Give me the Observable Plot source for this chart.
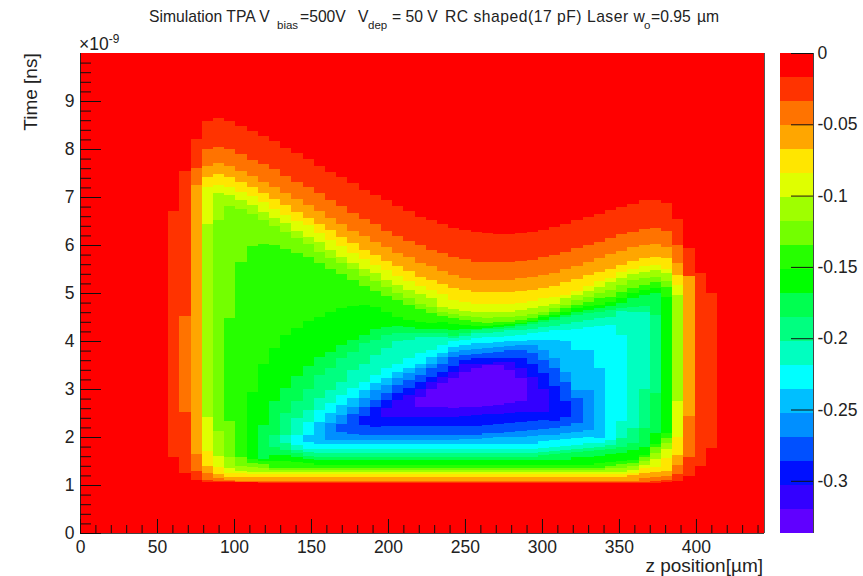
<!DOCTYPE html>
<html>
<head>
<meta charset="utf-8">
<script src="https://cdn.jsdelivr.net/npm/d3@7"></script>
<script src="https://cdn.jsdelivr.net/npm/@observablehq/plot@0.6"></script>
<style>
html,body{margin:0;padding:0;background:#fff}
#wrap{position:relative;width:863px;height:576px;overflow:hidden;font-family:"Liberation Sans",Arial,sans-serif;color:#222}
#wrap svg{position:absolute;left:0;top:0;background:transparent}
.t{position:absolute;white-space:nowrap;line-height:1}
.t sup{font-size:68%;line-height:0}
.h{position:absolute;white-space:nowrap;line-height:1;font-size:15.7px;top:9px}
.s{position:absolute;white-space:nowrap;line-height:1;font-size:11.5px;top:20px}
</style>
</head>
<body>
<div id="wrap">
<span class="h" style="left:149px">Simulation TPA V</span><span class="s" style="left:277px">bias</span><span class="h" style="left:300px">=500V</span><span class="h" style="left:358px">V</span><span class="s" style="left:368px">dep</span><span class="h" style="left:392px">= 50 V</span><span class="h" style="left:445px;letter-spacing:0.5px">RC shaped(17 pF) Laser w</span><span class="s" style="left:644px">o</span><span class="h" style="left:651px">=0.95</span><span class="h" style="left:697px">µ</span><span class="h" style="left:706px">m</span>
<div class="t" style="left:79px;top:36px;font-size:17.5px">×10<sup>-9</sup></div>
<div class="t" style="right:100px;top:556px;font-size:19px">z position[µm]</div>
<div class="t" style="left:30px;top:92px;font-size:19px;transform:translate(-50%,-50%) rotate(-90deg)">Time [ns]</div>
</div>
<script>
const palette = ["#ff0000","#ff3300","#ff7300","#ffa600","#ffe600","#dfff00","#9fff00","#73ff00","#26ff00","#00ff00","#00ff50","#00ff80","#00ffc0","#00ffff","#00bfff","#008fff","#0050ff","#0010ff","#3300ff","#6000ff"];
const zEdges = [0,-0.0168,-0.0337,-0.0505,-0.0673,-0.0842,-0.101,-0.1178,-0.1346,-0.1515,-0.1683,-0.1851,-0.202,-0.2188,-0.2356,-0.2525,-0.2693,-0.2861,-0.303,-0.3198,-0.3366];
const zTicks = [0,-0.05,-0.1,-0.15,-0.2,-0.25,-0.3];
const xMajor = [0,50,100,150,200,250,300,350,400];
const xMinor = [10,20,30,40,60,70,80,90,110,120,130,140,160,170,180,190,210,220,230,240,260,270,280,290,310,320,330,340,360,370,380,390,410,420,430,440];
const yMajor = [0,1,2,3,4,5,6,7,8,9];
const yMinor = [0.2,0.4,0.6,0.8,1.2,1.4,1.6,1.8,2.2,2.4,2.6,2.8,3.2,3.4,3.6,3.8,4.2,4.4,4.6,4.8,5.2,5.4,5.6,5.8,6.2,6.4,6.6,6.8,7.2,7.4,7.6,7.8,8.2,8.4,8.6,8.8,9.2,9.4,9.6,9.8];

// first bin index of each band, then upper and lower time edge (ns) for each z bin
const bandStart = [8,9,10,11,11,11,12,13,15,16,17,18,19,20,22,23,25,27,30];
const L1Top=[6.71,7.55,8.21,8.58,8.64,8.58,8.48,8.38,8.27,8.17,8.03,7.92,7.79,7.65,7.53,7.42,7.29,7.15,7.04,6.94,6.81,6.71,6.59,6.52,6.44,6.35,6.31,6.28,6.25,6.23,6.23,6.25,6.27,6.31,6.38,6.44,6.52,6.59,6.65,6.73,6.80,6.85,6.94,6.94,6.88,6.54,5.94,5.42,5.01];
const L1Bot=[1.59,1.25,1.10,1.07,1.06,1.06,1.06,1.06,1.05,1.05,1.05,1.05,1.05,1.05,1.05,1.05,1.05,1.05,1.05,1.05,1.05,1.05,1.05,1.05,1.05,1.05,1.05,1.05,1.05,1.05,1.05,1.05,1.05,1.05,1.05,1.05,1.05,1.05,1.05,1.05,1.05,1.05,1.05,1.05,1.07,1.08,1.19,1.40,1.78];
const L2Top=[4.52,7.60,7.99,8.05,8.00,7.90,7.78,7.69,7.58,7.44,7.31,7.20,7.08,6.94,6.81,6.67,6.54,6.44,6.30,6.19,6.09,5.99,5.90,5.83,5.74,5.70,5.65,5.64,5.64,5.64,5.67,5.69,5.74,5.79,5.85,5.93,5.99,6.07,6.15,6.22,6.28,6.33,6.36,6.30,5.99,5.36];
const L2Bot=[2.52,1.29,1.10,1.08,1.08,1.07,1.07,1.07,1.07,1.07,1.07,1.07,1.07,1.07,1.07,1.07,1.07,1.07,1.07,1.07,1.07,1.07,1.07,1.07,1.07,1.07,1.07,1.07,1.07,1.07,1.07,1.07,1.07,1.07,1.07,1.07,1.07,1.07,1.07,1.07,1.07,1.07,1.08,1.10,1.23,1.58];
const L3Top=[7.25,7.65,7.70,7.65,7.54,7.44,7.32,7.21,7.08,6.96,6.83,6.71,6.56,6.43,6.30,6.19,6.07,5.95,5.84,5.74,5.63,5.57,5.46,5.38,5.32,5.27,5.27,5.27,5.27,5.31,5.34,5.38,5.42,5.50,5.57,5.65,5.72,5.81,5.88,5.95,5.99,6.02,5.96,5.62,5.36];
const L3Bot=[1.65,1.24,1.14,1.10,1.09,1.09,1.09,1.09,1.09,1.09,1.09,1.09,1.09,1.09,1.09,1.09,1.09,1.09,1.09,1.09,1.09,1.09,1.09,1.09,1.09,1.09,1.09,1.09,1.09,1.09,1.09,1.09,1.09,1.09,1.09,1.09,1.09,1.09,1.09,1.09,1.14,1.17,1.19,1.42,2.44];
const L4Top=[7.41,7.48,7.41,7.31,7.20,7.09,6.96,6.83,6.69,6.57,6.44,6.31,6.17,6.04,5.90,5.79,5.67,5.56,5.46,5.34,5.27,5.19,5.10,5.06,5.03,5.03,5.03,5.03,5.05,5.06,5.10,5.15,5.22,5.29,5.38,5.44,5.50,5.58,5.67,5.72,5.76,5.72,5.38];
const L4Bot=[1.40,1.23,1.17,1.17,1.17,1.17,1.17,1.17,1.17,1.17,1.17,1.17,1.17,1.17,1.17,1.17,1.17,1.17,1.17,1.17,1.17,1.17,1.17,1.17,1.17,1.17,1.17,1.17,1.17,1.17,1.17,1.17,1.17,1.17,1.17,1.17,1.17,1.17,1.21,1.24,1.28,1.30,1.62];
const L5Top=[7.20,7.25,7.20,7.11,7.02,6.90,6.74,6.62,6.49,6.42,6.24,6.10,5.97,5.84,5.70,5.58,5.48,5.36,5.24,5.15,5.06,4.98,4.85,4.82,4.78,4.77,4.77,4.78,4.80,4.83,4.89,4.92,4.96,5.05,5.15,5.24,5.32,5.44,5.51,5.57,5.58,5.51,5.17];
const L5Bot=[1.71,1.38,1.24,1.24,1.23,1.23,1.23,1.23,1.23,1.23,1.23,1.23,1.23,1.23,1.23,1.23,1.23,1.23,1.23,1.23,1.23,1.23,1.23,1.23,1.23,1.23,1.23,1.23,1.23,1.23,1.23,1.23,1.23,1.23,1.23,1.23,1.23,1.23,1.26,1.35,1.38,1.56,1.99];
const L6Top=[6.44,7.08,7.04,6.94,6.83,6.69,6.56,6.45,6.30,6.17,6.07,5.90,5.76,5.63,5.51,5.41,5.27,5.17,5.06,4.98,4.89,4.71,4.66,4.63,4.61,4.60,4.60,4.61,4.65,4.68,4.73,4.78,4.89,4.96,5.05,5.12,5.22,5.31,5.40,5.44,5.48,5.41,4.96];
const L6Bot=[2.41,1.61,1.35,1.30,1.27,1.27,1.27,1.27,1.27,1.27,1.27,1.27,1.27,1.27,1.27,1.27,1.27,1.27,1.27,1.27,1.27,1.27,1.27,1.27,1.27,1.27,1.27,1.27,1.27,1.27,1.27,1.27,1.27,1.27,1.27,1.27,1.27,1.27,1.31,1.42,1.54,1.76,2.74];
const L7Top=[6.52,6.81,6.75,6.65,6.52,6.40,6.28,6.14,6.02,5.86,5.72,5.62,5.49,5.35,5.24,5.12,5.01,4.89,4.78,4.71,4.61,4.56,4.52,4.49,4.47,4.49,4.51,4.52,4.56,4.61,4.68,4.75,4.85,4.92,4.99,5.06,5.17,5.27,5.31,5.34,5.24];
const L7Bot=[2.12,1.58,1.40,1.38,1.35,1.31,1.31,1.31,1.31,1.31,1.31,1.31,1.31,1.31,1.31,1.31,1.31,1.31,1.31,1.31,1.31,1.31,1.31,1.31,1.31,1.31,1.31,1.31,1.31,1.31,1.31,1.31,1.31,1.31,1.31,1.35,1.36,1.40,1.51,1.66,1.87];
const L8Top=[4.47,5.64,5.97,6.02,5.99,5.91,5.83,5.74,5.62,5.51,5.40,5.27,5.15,5.05,4.94,4.85,4.75,4.66,4.59,4.52,4.47,4.44,4.40,4.38,4.39,4.40,4.44,4.47,4.54,4.61,4.68,4.75,4.82,4.89,4.92,5.03,5.10,5.17,5.22,5.12];
const L8Bot=[2.33,1.58,1.45,1.44,1.36,1.36,1.36,1.36,1.36,1.36,1.36,1.36,1.36,1.36,1.36,1.36,1.36,1.36,1.36,1.36,1.36,1.36,1.36,1.36,1.36,1.36,1.36,1.36,1.36,1.36,1.36,1.36,1.36,1.36,1.40,1.43,1.45,1.58,1.80,1.97];
const L9Top=[2.94,3.53,3.86,4.12,4.28,4.42,4.51,4.61,4.68,4.73,4.75,4.70,4.61,4.51,4.44,4.40,4.37,4.40,4.35,4.33,4.32,4.32,4.33,4.35,4.38,4.42,4.49,4.54,4.61,4.68,4.72,4.75,4.82,4.89,4.99,5.06,5.10,4.92];
const L9Bot=[1.55,1.50,1.50,1.49,1.47,1.45,1.42,1.42,1.42,1.42,1.42,1.42,1.42,1.42,1.42,1.42,1.42,1.42,1.42,1.42,1.42,1.42,1.42,1.42,1.42,1.42,1.42,1.42,1.42,1.42,1.42,1.45,1.47,1.50,1.53,1.62,1.85,2.08];
const L10Top=[2.25,2.74,3.03,3.27,3.47,3.67,3.78,3.92,4.03,4.12,4.24,4.30,4.31,4.30,4.26,4.26,4.26,4.23,4.24,4.26,4.28,4.30,4.32,4.35,4.39,4.44,4.49,4.54,4.61,4.65,4.68,4.72,4.80,4.89,4.96,4.99];
const L10Bot=[1.55,1.62,1.62,1.58,1.54,1.52,1.52,1.52,1.52,1.52,1.52,1.52,1.52,1.52,1.52,1.52,1.52,1.52,1.52,1.52,1.52,1.52,1.52,1.52,1.52,1.52,1.52,1.52,1.58,1.59,1.61,1.64,1.67,1.73,1.80,2.08];
const L11Top=[2.04,2.49,2.74,3.01,3.29,3.43,3.64,3.78,3.95,4.02,4.12,4.16,4.17,4.17,4.17,4.16,4.10,4.16,4.22,4.24,4.26,4.28,4.31,4.35,4.40,4.44,4.49,4.54,4.58,4.61,4.65,4.68,4.71,4.73,4.54];
const L11Bot=[1.80,1.73,1.66,1.60,1.59,1.59,1.59,1.59,1.59,1.59,1.59,1.59,1.59,1.59,1.59,1.59,1.59,1.59,1.59,1.59,1.59,1.59,1.59,1.59,1.62,1.65,1.66,1.68,1.71,1.73,1.76,1.80,1.87,2.18,2.91];
const L12Top=[2.04,2.39,2.56,2.81,2.98,3.15,3.40,3.53,3.71,3.85,3.99,4.03,4.08,4.09,4.08,4.06,4.10,4.16,4.17,4.19,4.22,4.23,4.26,4.30,4.31,4.35,4.40,4.44,4.47,4.51,4.63,4.61,4.61];
const L12Bot=[1.87,1.73,1.68,1.66,1.66,1.66,1.66,1.66,1.66,1.66,1.66,1.66,1.66,1.66,1.66,1.66,1.66,1.66,1.66,1.66,1.66,1.66,1.66,1.69,1.71,1.73,1.75,1.78,1.80,1.83,1.97,2.18,3.01];
const L13Top=[2.04,2.32,2.56,2.70,2.87,3.03,3.15,3.29,3.43,3.53,3.64,3.74,3.81,3.92,3.99,4.02,4.06,4.08,4.09,4.10,4.12,4.16,4.19,4.22,4.23,4.26,4.30,4.32,4.33,4.12];
const L13Bot=[1.83,1.76,1.75,1.75,1.75,1.75,1.75,1.75,1.75,1.75,1.75,1.75,1.75,1.75,1.75,1.75,1.75,1.75,1.75,1.75,1.75,1.75,1.78,1.80,1.81,1.83,1.87,1.88,1.94,2.34];
const L14Top=[2.04,2.32,2.49,2.67,2.81,2.98,3.12,3.22,3.36,3.43,3.53,3.66,3.74,3.88,3.92,3.95,3.95,3.97,3.99,4.01,4.02,4.02,4.02,3.99,3.81,3.81,3.43];
const L14Bot=[1.90,1.85,1.85,1.85,1.85,1.85,1.85,1.85,1.85,1.85,1.85,1.85,1.85,1.85,1.85,1.85,1.85,1.85,1.85,1.85,1.85,1.92,1.94,1.95,1.97,2.01,1.97];
const L15Top=[2.30,2.46,2.63,2.81,2.98,3.08,3.22,3.33,3.43,3.53,3.67,3.78,3.81,3.83,3.85,3.87,3.90,3.92,3.92,3.81,3.64,3.36,2.98,2.98];
const L15Bot=[1.94,1.94,1.94,1.94,1.94,1.94,1.94,1.94,1.94,1.94,1.94,1.94,1.96,1.96,1.97,1.99,2.00,2.01,2.02,2.04,2.04,2.08,2.11,2.15];
const L16Top=[2.27,2.48,2.63,2.77,2.91,3.08,3.19,3.29,3.43,3.53,3.67,3.71,3.73,3.74,3.78,3.81,3.81,3.74,3.60,3.43,3.15,2.81];
const L16Bot=[2.11,2.06,2.04,2.04,2.04,2.04,2.04,2.04,2.04,2.04,2.04,2.04,2.04,2.08,2.09,2.11,2.13,2.15,2.16,2.18,2.23,2.29];
const L17Top=[2.44,2.62,2.77,2.91,3.03,3.15,3.26,3.36,3.47,3.60,3.64,3.64,3.64,3.64,3.64,3.53,3.33,3.06,2.75];
const L17Bot=[2.25,2.20,2.22,2.22,2.22,2.22,2.22,2.22,2.22,2.23,2.23,2.25,2.27,2.30,2.32,2.33,2.35,2.34,2.41];
const L18Top=[2.60,2.77,2.88,3.01,3.15,3.24,3.36,3.53,3.53,3.53,3.57,3.57,3.43,3.26,3.01];
const L18Bot=[2.42,2.41,2.42,2.42,2.42,2.42,2.42,2.44,2.46,2.47,2.48,2.49,2.53,2.53,2.53];
const L19Top=[2.84,3.01,3.12,3.22,3.36,3.43,3.50,3.50,3.40,3.22];
const L19Bot=[2.63,2.63,2.63,2.60,2.62,2.63,2.65,2.67,2.70,2.74];

const tops=[L1Top,L2Top,L3Top,L4Top,L5Top,L6Top,L7Top,L8Top,L9Top,L10Top,L11Top,L12Top,L13Top,L14Top,L15Top,L16Top,L17Top,L18Top,L19Top];
const bots=[L1Bot,L2Bot,L3Bot,L4Bot,L5Bot,L6Bot,L7Bot,L8Bot,L9Bot,L10Bot,L11Bot,L12Bot,L13Bot,L14Bot,L15Bot,L16Bot,L17Bot,L18Bot,L19Bot];

const binWidth = 7.273, binOrigin = -0.85, xMax = 444.2;
const cells = [{z1:0,z2:xMax,t1:0,t2:10,level:0}];
tops.forEach((top,k)=>top.forEach((t,i)=>{
  const c = bandStart[k]+i;
  cells.push({z1:binOrigin+c*binWidth,z2:binOrigin+(c+1)*binWidth,t1:bots[k][i],t2:t,level:k+1});
}));
const barCells = palette.map((_,k)=>({a:zEdges[k],b:zEdges[k+1],level:k}));
const levelDomain = palette.map((_,k)=>k);
const font = {fontFamily:'"Liberation Sans",Arial,sans-serif',fontSize:"17.5px",color:"#222",background:"transparent"};

const main = Plot.plot({
  width:863,height:576,marginLeft:80,marginRight:99,marginTop:53,marginBottom:43,style:font,
  x:{domain:[0,xMax]},y:{domain:[0,10]},
  color:{type:"ordinal",domain:levelDomain,range:palette},
  marks:[
    Plot.rect(cells,{x1:"z1",x2:"z2",y1:"t1",y2:"t2",fill:"level",shapeRendering:"crispEdges"}),
    Plot.ruleX([0],{stroke:"#222"}),
    Plot.ruleX([xMax],{stroke:"#555"}),
    Plot.ruleY([0],{stroke:"#444"}),
    Plot.tickX(xMajor,{x:d=>d,insetTop:466,stroke:"#111"}),
    Plot.tickX(xMinor,{x:d=>d,insetTop:472,stroke:"#111"}),
    Plot.tickY(yMajor,{y:d=>d,insetRight:663,stroke:"#111"}),
    Plot.tickY(yMinor,{y:d=>d,insetRight:673,stroke:"#111"}),
    Plot.axisX({ticks:xMajor,tickSize:0,tickPadding:7,label:null,tickFormat:d=>String(d)}),
    Plot.axisY({ticks:yMajor,tickSize:0,tickPadding:6,label:null,tickFormat:d=>String(d)})
  ]
});
const bar = Plot.plot({
  width:863,height:576,marginLeft:780,marginRight:50,marginTop:53,marginBottom:43,style:font,
  x:{domain:[0,1],axis:null},y:{domain:[zEdges[20],0]},
  color:{type:"ordinal",domain:levelDomain,range:palette},
  marks:[
    Plot.rect(barCells,{x1:0,x2:1,y1:"a",y2:"b",fill:"level",shapeRendering:"crispEdges"}),
    Plot.ruleX([1],{stroke:"#444"}),
    Plot.tickY(zTicks,{y:d=>d,insetLeft:11,stroke:"#111"}),
    Plot.axisY({anchor:"right",ticks:zTicks,tickSize:0,tickPadding:4,label:null,tickFormat:d=>String(d)})
  ]
});
const wrap=document.getElementById("wrap");
wrap.prepend(bar);wrap.prepend(main);
</script>
</body>
</html>
